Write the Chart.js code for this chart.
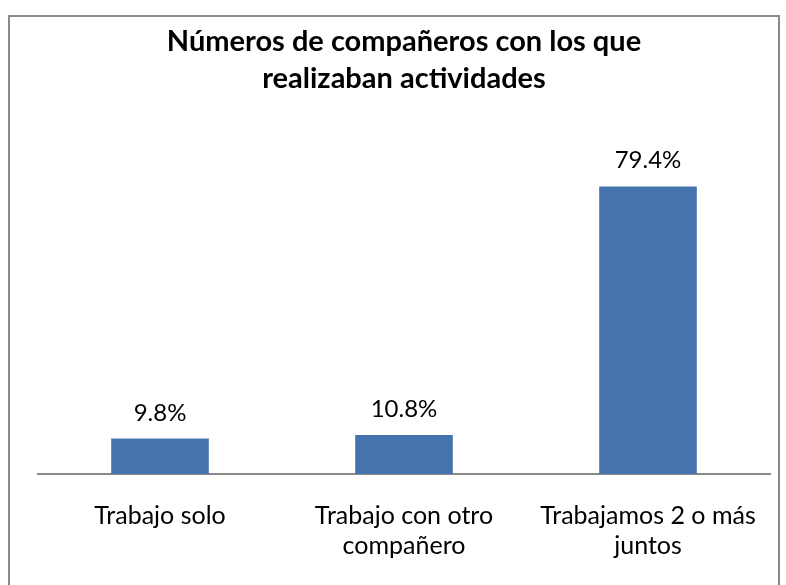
<!DOCTYPE html>
<html lang="es">
<head>
  <meta charset="UTF-8">
  <title>Números de compañeros con los que realizaban actividades</title>
  <style>
    html, body { margin: 0; padding: 0; background: #fff; overflow: hidden; }
    #wrap { position: relative; width: 786px; height: 585px; }
    #frame {
      position: absolute; left: 8px; top: 15px; width: 772px; height: 620px;
      border: 2px solid #8a8a8a; box-sizing: border-box;
    }
    canvas { position: absolute; left: 0; top: 0; }
  </style>
</head>
<body>
  <div id="wrap">
    <div id="frame"></div>
    <canvas id="chart" width="786" height="585"></canvas>
  </div>

  <script src="https://cdn.jsdelivr.net/npm/chart.js"></script>
  <script>
    const categories = [
      'Trabajo solo',
      ['Trabajo con otro', 'compañero'],
      ['Trabajamos 2 o más', 'juntos']
    ];
    const percentages = [9.8, 10.8, 79.4];
    const chartTitle = ['Números de compañeros con los que', 'realizaban actividades'];

    const FONT = 'Lato, "Open Sans", sans-serif';

    // value labels above each bar
    const barLabels = {
      id: 'barLabels',
      afterDatasetsDraw(chart) {
        const ctx = chart.ctx;
        const meta = chart.getDatasetMeta(0);
        ctx.save();
        ctx.font = '24px ' + FONT;
        ctx.fillStyle = '#000';
        ctx.textAlign = 'center';
        ctx.textBaseline = 'alphabetic';
        meta.data.forEach((bar, i) => {
          ctx.fillText(percentages[i].toFixed(1) + '%', bar.x, bar.y - 18);
        });
        ctx.restore();
      }
    };

    new Chart(document.getElementById('chart'), {
      type: 'bar',
      data: {
        labels: categories,
        datasets: [{
          data: percentages,
          backgroundColor: '#4473ae',
          categoryPercentage: 1,
          barPercentage: 0.4
        }]
      },
      options: {
        responsive: false,
        animation: false,
        layout: { padding: { left: 38, right: 16, top: 23, bottom: -3 } },
        plugins: {
          legend: { display: false },
          tooltip: { enabled: false },
          title: {
            display: true,
            text: chartTitle,
            color: '#000',
            font: { family: FONT, size: 29, weight: 'bold', lineHeight: '37px' },
            padding: { top: 0, bottom: 51 }
          }
        },
        scales: {
          x: {
            grid: { display: false, drawTicks: false },
            border: { display: true, color: '#8a8a8a', width: 2 },
            ticks: {
              color: '#000',
              padding: 27,
              maxRotation: 0,
              autoSkip: false,
              font: { family: FONT, size: 25, lineHeight: '30px' }
            }
          },
          y: {
            display: false,
            min: 0,
            max: 90
          }
        }
      },
      plugins: [barLabels]
    });
  </script>
</body>
</html>
